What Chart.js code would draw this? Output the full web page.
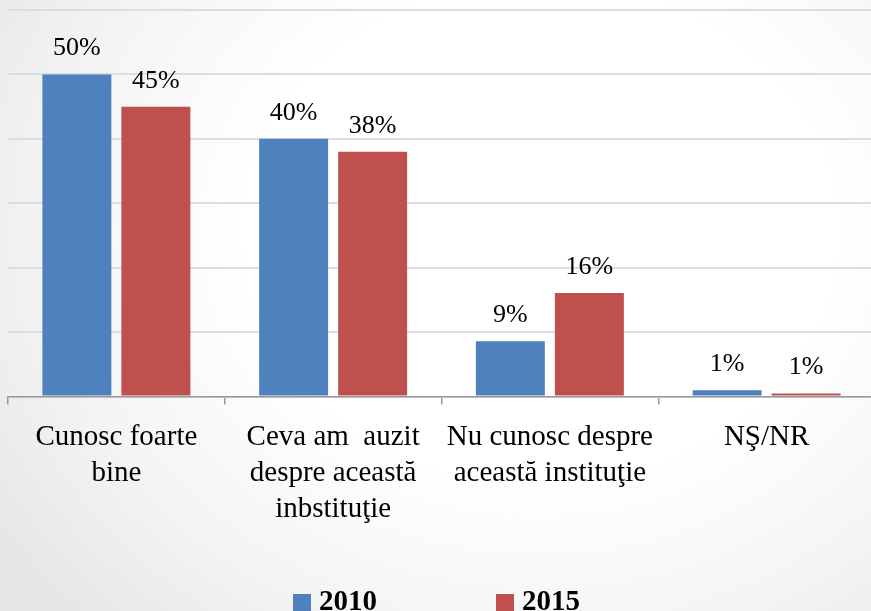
<!DOCTYPE html>
<html>
<head>
<meta charset="utf-8">
<script src="https://cdn.jsdelivr.net/npm/chart.js@4"></script>
<style>
  html, body { margin:0; padding:0; width:871px; height:611px; overflow:hidden; }
  body { background: radial-gradient(ellipse 75% 90% at 62% 38%, #ffffff 45%, #f4f4f4 75%, #e6e6e6 100%); position:relative; }
  #wrap { position:absolute; left:0; top:0; width:880px; height:611px; }
  #legend { position:absolute; top:585px; left:0; width:871px; font-family:"Liberation Serif", serif; font-weight:bold; font-size:29px; color:#000; }
  .item { position:absolute; top:0; height:30px; line-height:30px; white-space:nowrap; }
  .sw { display:inline-block; width:18px; height:17px; margin-right:8px; vertical-align:-1px; }
</style>
</head>
<body>
<div id="wrap"><canvas id="c" width="880" height="611"></canvas></div>
<div id="legend"></div>
<script>
const categories = [
  ['Cunosc foarte', 'bine'],
  ['Ceva am  auzit', 'despre această', 'inbstituţie'],
  ['Nu cunosc despre', 'această instituţie'],
  ['NŞ/NR']
];
const seriesNames = ['2010', '2015'];
const values2010 = [50, 40, 8.6, 1.0];
const values2015 = [45, 38, 16.1, 0.5];
const colors = ['#4f81bd', '#c0504d'];
const yTicks = [0, 10, 20, 30, 40, 50, 60];

const valueLabels = {
  id: 'valueLabels',
  afterDatasetsDraw(chart) {
    const ctx = chart.ctx;
    ctx.save();
    ctx.font = '26px "Liberation Serif"';
    ctx.fillStyle = '#000';
    ctx.textAlign = 'center';
    ctx.textBaseline = 'alphabetic';
    chart.data.datasets.forEach((ds, i) => {
      chart.getDatasetMeta(i).data.forEach((bar, j) => {
        ctx.fillText(Math.round(ds.data[j]) + '%', bar.x, bar.y - 19);
      });
    });
    ctx.restore();
  }
};

new Chart(document.getElementById('c'), {
  type: 'bar',
  data: {
    labels: categories,
    datasets: [
      { label: seriesNames[0], data: values2010, backgroundColor: colors[0] },
      { label: seriesNames[1], data: values2015, backgroundColor: colors[1] }
    ]
  },
  options: {
    responsive: false,
    animation: false,
    layout: { padding: { left: 8, right: 5, top: 10, bottom: 69.5 } },
    datasets: { bar: { categoryPercentage: 0.729, barPercentage: 0.873 } },
    plugins: { legend: { display: false }, tooltip: { enabled: false } },
    scales: {
      x: {
        grid: { offset: true, drawOnChartArea: false, color: '#9a9a9a', lineWidth: 1.5, tickLength: 8 },
        border: { color: '#9a9a9a', width: 1.5 },
        ticks: {
          color: '#000',
          font: { family: 'Liberation Serif', size: 29, lineHeight: 1.24 },
          padding: 14.5,
          maxRotation: 0, autoSkip: false
        }
      },
      y: {
        min: 0, max: 60,
        afterBuildTicks(axis) { axis.ticks = yTicks.map(v => ({ value: v })); },
        grid: { color: '#d5deeb', lineWidth: 2, drawTicks: false },
        border: { display: false },
        ticks: { display: false }
      }
    }
  },
  plugins: [valueLabels]
});

const legend = document.getElementById('legend');
const lx = [293, 496];
seriesNames.forEach((n, i) => {
  const d = document.createElement('div');
  d.className = 'item';
  d.style.left = lx[i] + 'px';
  d.innerHTML = '<span class="sw" style="background:' + colors[i] + '"></span>' + n;
  legend.appendChild(d);
});
</script>
</body>
</html>
